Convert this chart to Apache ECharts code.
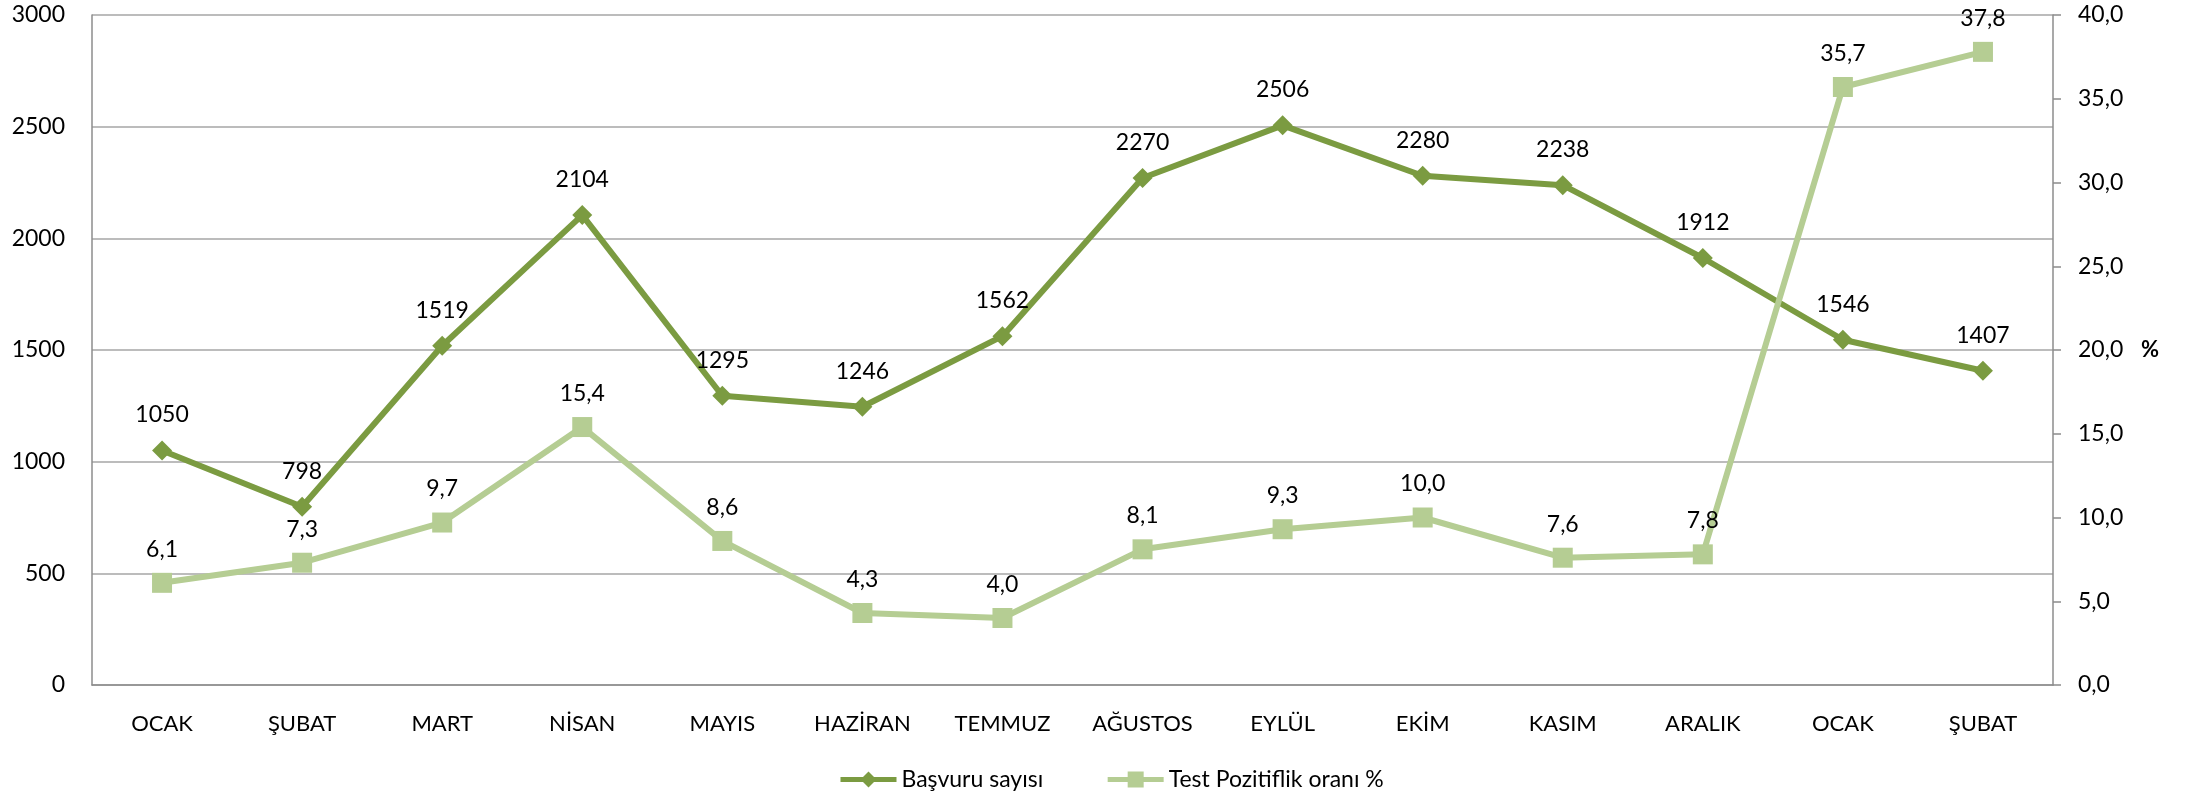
<!DOCTYPE html>
<html>
<head>
<meta charset="utf-8">
<script src="https://cdn.jsdelivr.net/npm/echarts@6/dist/echarts.min.js"></script>
<style>html,body{margin:0;padding:0;background:#fff;}#c{width:2193px;height:794px;}</style>
</head>
<body>
<div id="c"></div>
<script>
const categories = ['OCAK','ŞUBAT','MART','NİSAN','MAYIS','HAZİRAN','TEMMUZ','AĞUSTOS','EYLÜL','EKİM','KASIM','ARALIK','OCAK','ŞUBAT'];
const basvuru = [1050, 798, 1519, 2104, 1295, 1246, 1562, 2270, 2506, 2280, 2238, 1912, 1546, 1407];
const pozitiflik = [6.1, 7.3, 9.7, 15.4, 8.6, 4.3, 4.0, 8.1, 9.3, 10.0, 7.6, 7.8, 35.7, 37.8];
const seriesNames = ['Başvuru sayısı', 'Test Pozitiflik oranı %'];

const FONT = 'Lato';
const dark = '#7B9B41';
const light = '#B5CD93';
const axisGray = '#8C8C8C';
const comma = v => v.toFixed(1).replace('.', ',');

const chart = echarts.init(document.getElementById('c'));
chart.setOption({
  animation: false,
  backgroundColor: '#fff',
  textStyle: { fontFamily: FONT, color: '#000' },
  grid: { left: 92, right: 140, top: 15, bottom: 109, containLabel: false },
  legend: {
    left: 833, top: 763,
    itemWidth: 56, itemHeight: 20, itemGap: 62,
    lineStyle: { width: 5 },
    textStyle: { fontFamily: FONT, fontSize: 23, color: '#000', padding: [0,0,0,0] },
    data: seriesNames
  },
  xAxis: {
    type: 'category',
    data: categories,
    boundaryGap: true,
    axisLine: { show: true, lineStyle: { color: axisGray, width: 1.5 } },
    axisTick: { show: false },
    axisLabel: { fontFamily: FONT, fontSize: 22, color: '#000', margin: 28, interval: 0 }
  },
  yAxis: [
    {
      type: 'value', min: 0, max: 3000, interval: 500,
      axisLine: { show: true, lineStyle: { color: axisGray, width: 1.5 } },
      axisTick: { show: false },
      splitLine: { show: true, lineStyle: { color: '#A6A6A6', width: 1.5 } },
      axisLabel: { fontFamily: FONT, fontSize: 23, color: '#000', margin: 27, formatter: v => String(v) }
    },
    {
      type: 'value', min: 0, max: 40, interval: 5, position: 'right',
      name: '%', nameLocation: 'middle', nameRotate: 0, nameGap: 88,
      nameTextStyle: { fontFamily: FONT, fontSize: 22, color: '#000', fontWeight: 'bold' },
      axisLine: { show: true, lineStyle: { color: axisGray, width: 1.5 } },
      axisTick: { show: true, inside: false, length: 8, lineStyle: { color: axisGray, width: 1.5 } },
      splitLine: { show: false },
      axisLabel: { fontFamily: FONT, fontSize: 23, color: '#000', margin: 25, formatter: v => comma(v) }
    }
  ],
  series: [
    {
      name: seriesNames[0], type: 'line', yAxisIndex: 0,
      data: basvuru,
      symbol: 'diamond', symbolSize: 20,
      lineStyle: { color: dark, width: 6 },
      itemStyle: { color: dark },
      label: { show: true, position: 'top', distance: 14, fontFamily: FONT, fontSize: 23, color: '#000' },
      z: 2
    },
    {
      name: seriesNames[1], type: 'line', yAxisIndex: 1,
      data: pozitiflik,
      symbol: 'rect', symbolSize: 20,
      lineStyle: { color: light, width: 6 },
      itemStyle: { color: light },
      label: { show: true, position: 'top', distance: 12, fontFamily: FONT, fontSize: 23, color: '#000', formatter: p => comma(p.value) },
      z: 3
    }
  ]
});
</script>
</body>
</html>
